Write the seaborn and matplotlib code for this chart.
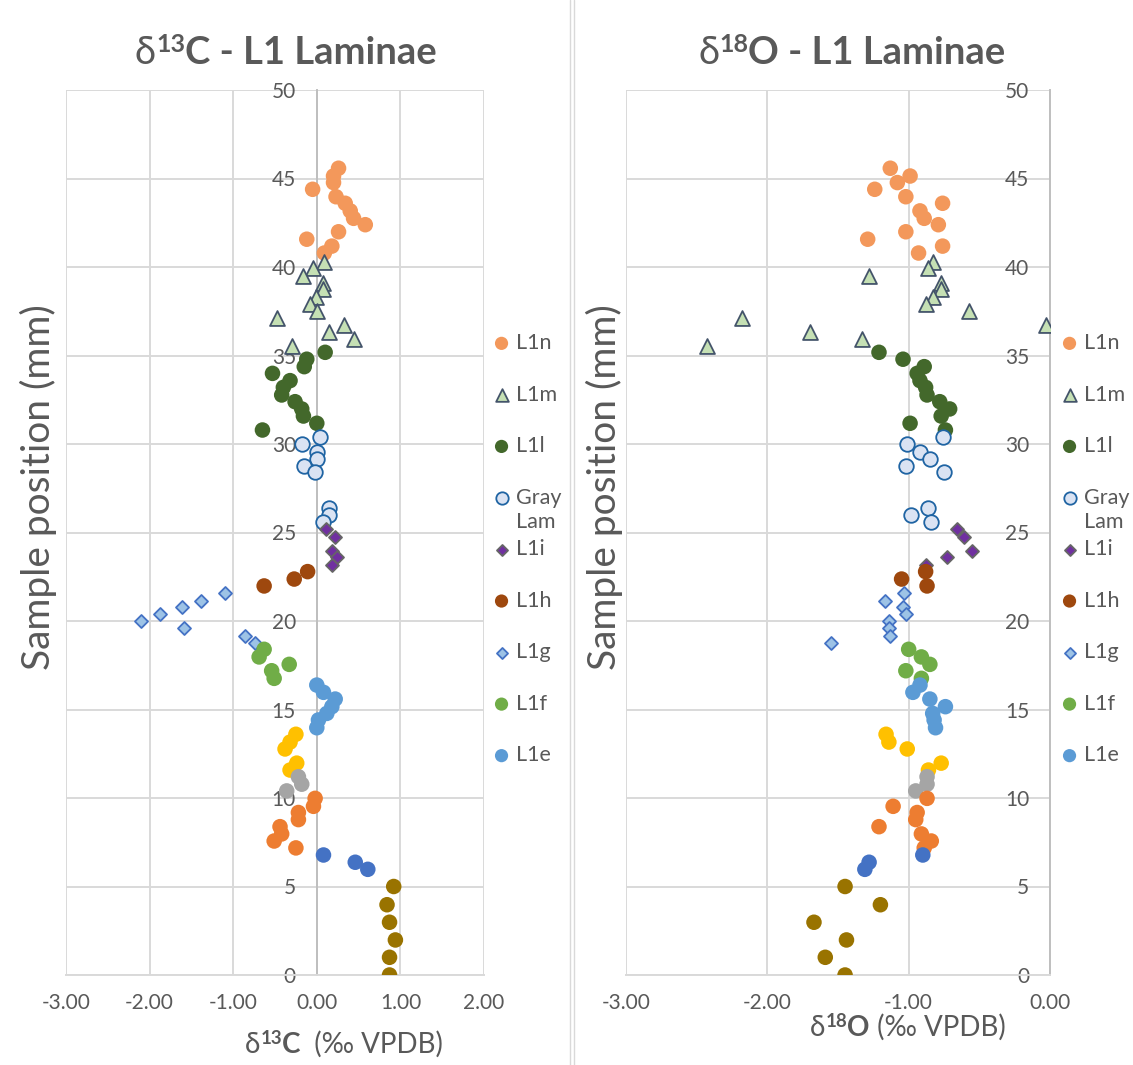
import numpy as np
import pandas as pd
import matplotlib
matplotlib.use("Agg")
import matplotlib.pyplot as plt
from matplotlib.lines import Line2D
import seaborn as sns

# ---------------- data ----------------
series_names = ["L1n", "L1m", "L1l", "Gray", "L1i", "L1h", "L1g", "L1f", "L1e",
                "L1d", "L1c", "L1b", "L1a", "L1base"]
legend_labels = ["L1n", "L1m", "L1l", "Gray", "L1i", "L1h", "L1g", "L1f", "L1e"]

y_L1n = [45.58, 45.14, 44.77, 44.39, 43.97, 43.60, 43.17, 42.75, 42.39, 41.99, 41.57, 41.18, 40.79]
c_L1n = [0.26, 0.20, 0.20, -0.05, 0.23, 0.34, 0.40, 0.44, 0.58, 0.26, -0.12, 0.18, 0.09]
o_L1n = [-1.13, -0.99, -1.08, -1.24, -1.02, -0.76, -0.92, -0.89, -0.79, -1.02, -1.29, -0.76, -0.93]

y_L1m = [40.30, 39.92, 39.51, 39.11, 38.74, 38.32, 37.91, 37.49, 37.10, 36.72, 36.35, 35.91, 35.54]
c_L1m = [0.09, -0.05, -0.17, 0.08, 0.07, -0.01, -0.08, 0.00, -0.48, 0.33, 0.15, 0.44, -0.30]
o_L1m = [-0.83, -0.86, -1.28, -0.77, -0.77, -0.83, -0.88, -0.57, -2.18, -0.03, -1.70, -1.33, -2.43]

y_L1l = [35.18, 34.79, 34.37, 33.99, 33.58, 33.20, 32.77, 32.39, 31.98, 31.58, 31.17, 30.79]
c_L1l = [0.10, -0.12, -0.15, -0.53, -0.32, -0.40, -0.42, -0.26, -0.18, -0.16, 0.00, -0.65]
o_L1l = [-1.21, -1.04, -0.89, -0.94, -0.92, -0.88, -0.87, -0.78, -0.71, -0.77, -0.99, -0.74]

y_gray = [30.38, 29.98, 29.57, 29.17, 28.77, 28.39, 26.40, 25.97, 25.60]
c_gray = [0.04, -0.18, 0.00, 0.00, -0.15, -0.02, 0.14, 0.14, 0.08]
o_gray = [-0.76, -1.01, -0.92, -0.85, -1.02, -0.75, -0.86, -0.98, -0.84]

y_L1i = [25.18, 24.76, 23.97, 23.60, 23.16]
c_L1i = [0.11, 0.22, 0.18, 0.24, 0.18]
o_L1i = [-0.66, -0.61, -0.55, -0.73, -0.88]

y_L1h = [22.79, 22.37, 21.98]
c_L1h = [-0.11, -0.27, -0.63]
o_L1h = [-0.88, -1.05, -0.87]

y_L1g = [21.60, 21.15, 20.77, 20.38, 20.00, 19.59, 19.17, 18.78]
c_L1g = [-1.10, -1.38, -1.61, -1.87, -2.10, -1.59, -0.86, -0.74]
o_L1g = [-1.03, -1.17, -1.04, -1.02, -1.14, -1.14, -1.13, -1.55]

y_L1f = [18.40, 17.97, 17.55, 17.19, 16.76]
c_L1f = [-0.63, -0.69, -0.33, -0.54, -0.51]
o_L1f = [-1.00, -0.91, -0.85, -1.02, -0.91]

y_L1e = [16.38, 15.97, 15.59, 15.16, 14.78, 14.41, 13.97]
c_L1e = [0.00, 0.08, 0.22, 0.18, 0.12, 0.02, 0.00]
o_L1e = [-0.92, -0.97, -0.85, -0.74, -0.83, -0.82, -0.81]

y_L1d = [13.60, 13.16, 12.77, 11.97, 11.58]
c_L1d = [-0.25, -0.32, -0.38, -0.24, -0.32]
o_L1d = [-1.16, -1.14, -1.01, -0.77, -0.86]

y_L1c = [11.20, 10.78, 10.40]
c_L1c = [-0.22, -0.18, -0.36]
o_L1c = [-0.87, -0.87, -0.95]

y_L1b = [9.98, 9.53, 9.18, 8.78, 8.38, 7.97, 7.57, 7.18]
c_L1b = [-0.02, -0.04, -0.22, -0.22, -0.44, -0.42, -0.51, -0.25]
o_L1b = [-0.87, -1.11, -0.94, -0.95, -1.21, -0.91, -0.84, -0.89]

y_L1a = [6.78, 6.37, 5.97]
c_L1a = [0.08, 0.46, 0.61]
o_L1a = [-0.90, -1.28, -1.31]

y_base = [5.00, 3.97, 2.98, 1.98, 1.00, 0.00]
c_base = [0.92, 0.84, 0.87, 0.94, 0.87, 0.87]
o_base = [-1.45, -1.20, -1.67, -1.44, -1.59, -1.45]

y_all = [y_L1n, y_L1m, y_L1l, y_gray, y_L1i, y_L1h, y_L1g, y_L1f, y_L1e,
         y_L1d, y_L1c, y_L1b, y_L1a, y_base]
c_all = [c_L1n, c_L1m, c_L1l, c_gray, c_L1i, c_L1h, c_L1g, c_L1f, c_L1e,
         c_L1d, c_L1c, c_L1b, c_L1a, c_base]
o_all = [o_L1n, o_L1m, o_L1l, o_gray, o_L1i, o_L1h, o_L1g, o_L1f, o_L1e,
         o_L1d, o_L1c, o_L1b, o_L1a, o_base]

# ---------------- style ----------------
face = ["#F3985B", "#C5E0B4", "#43682B", "#DAE3F3", "#7030A0", "#9E480E", "#9DC3E6",
        "#70AD47", "#5B9BD5", "#FFC000", "#A5A5A5", "#ED7D31", "#4472C4", "#997300"]
edge = ["none", "#44546A", "none", "#1F64A3", "#666666", "none", "#4472C4",
        "none", "none", "none", "none", "none", "none", "none"]
markers = ["o", "^", "o", "o", "D", "o", "D", "o", "o", "o", "o", "o", "o", "o"]
sizes = [125, 115, 125, 110, 44, 125, 44, 125, 125, 125, 125, 125, 125, 125]

sns.set_theme(style="white")
FAM = ["Lato", "DejaVu Sans"]
plt.rcParams["font.family"] = FAM
TXT = "#595959"

W, H = 1133, 1065
fig = plt.figure(figsize=(W / 100, H / 100), dpi=100)
fig.patch.set_facecolor("white")

axL = fig.add_axes([66 / W, 90 / H, 418 / W, 885 / H])
axR = fig.add_axes([626 / W, 90 / H, 424 / W, 885 / H])


def draw_panel(ax, xvals, xmin, xmax):
    handles = []
    for i in range(len(series_names)):
        df = pd.DataFrame({"x": xvals[i], "y": y_all[i]})
        sns.scatterplot(data=df, x="x", y="y", ax=ax, marker=markers[i], s=sizes[i],
                        color=face[i], edgecolor=edge[i],
                        linewidth=1.3 if edge[i] != "none" else 0, zorder=3)
        handles.append(ax.collections[-1])
    ax.set_xlim(xmin, xmax)
    ax.set_ylim(0, 50)
    xt = np.arange(xmin, xmax + 0.01, 1.0)
    ax.set_xticks(xt)
    ax.set_xticklabels([f"{v:.2f}" for v in xt])
    ax.set_yticks(np.arange(0, 51, 5))
    ax.grid(True, color="#D9D9D9", lw=1.4)
    ax.set_axisbelow(True)
    for s in ["top", "right"]:
        ax.spines[s].set_visible(False)
    ax.spines["left"].set_position(("data", 0))
    ax.spines["left"].set_color("#BFBFBF")
    ax.spines["left"].set_linewidth(1.4)
    ax.spines["bottom"].set_color("#D9D9D9")
    ax.spines["bottom"].set_linewidth(1.4)
    ax.tick_params(axis="both", length=0, labelsize=15, colors=TXT)
    ax.tick_params(axis="x", pad=13)
    ax.tick_params(axis="y", pad=15)
    ax.set_xlabel("")
    ax.set_ylabel("Sample position (mm)", fontsize=28, color=TXT)
    return handles


hL = draw_panel(axL, c_all, -3, 2)
hR = draw_panel(axR, o_all, -3, 0)
axL.yaxis.set_label_coords(-0.021, 0.551)
axR.yaxis.set_label_coords(-0.007, 0.551)


def make_legend(ax, handles, left_px, top_px):
    leg = ax.legend(handles[:9], legend_labels, loc="upper left",
                    bbox_to_anchor=(left_px / W, 1 - top_px / H),
                    bbox_transform=fig.transFigure, frameon=False, fontsize=15.5,
                    labelspacing=1.465, handlelength=0.7, handletextpad=0.3,
                    borderpad=0, borderaxespad=0, markerscale=0.85,
                    labelcolor=TXT)
    return leg


legL = make_legend(axL, hL, 494, 333)
legR = make_legend(axR, hR, 1062, 333)

fig.canvas.draw()
renderer = fig.canvas.get_renderer()

for leg in (legL, legR):
    gt = leg.get_texts()[3]
    bb = gt.get_window_extent(renderer)
    fig.text(bb.x0 / W, (bb.y0 - 4) / H, "Lam", ha="left", va="top",
             fontsize=15.5, color=TXT, family=FAM)


def rich(x_px, base_px, pieces):
    x = x_px
    for s, size, weight, rise in pieces:
        t = fig.text(x / W, 1 - (base_px - rise) / H, s, ha="left", va="baseline",
                     fontsize=size, fontweight=weight, color=TXT, family=FAM)
        x += t.get_window_extent(renderer).width


rich(135, 64, [("δ", 27.5, "normal", 0), ("13", 18, "bold", 12),
               ("C - L1 Laminae", 27.5, "bold", 0)])
rich(698, 64, [("δ", 27.5, "normal", 0), ("18", 18, "bold", 12),
               ("O - L1 Laminae", 27.5, "bold", 0)])
rich(245, 1053, [("δ", 20, "normal", 0), ("13", 13.5, "bold", 9),
                 ("C", 20, "bold", 0), ("  (‰ VPDB)", 20, "normal", 0)])
rich(810, 1036, [("δ", 20, "normal", 0), ("18", 13.5, "bold", 9),
                 ("O", 20, "bold", 0), (" (‰ VPDB)", 20, "normal", 0)])

for xp in (570, 574):
    fig.add_artist(Line2D([xp / W, xp / W], [0, 1], color="#D9D9D9", lw=1,
                          transform=fig.transFigure))

fig.savefig("out.png", dpi=100, facecolor="white")
